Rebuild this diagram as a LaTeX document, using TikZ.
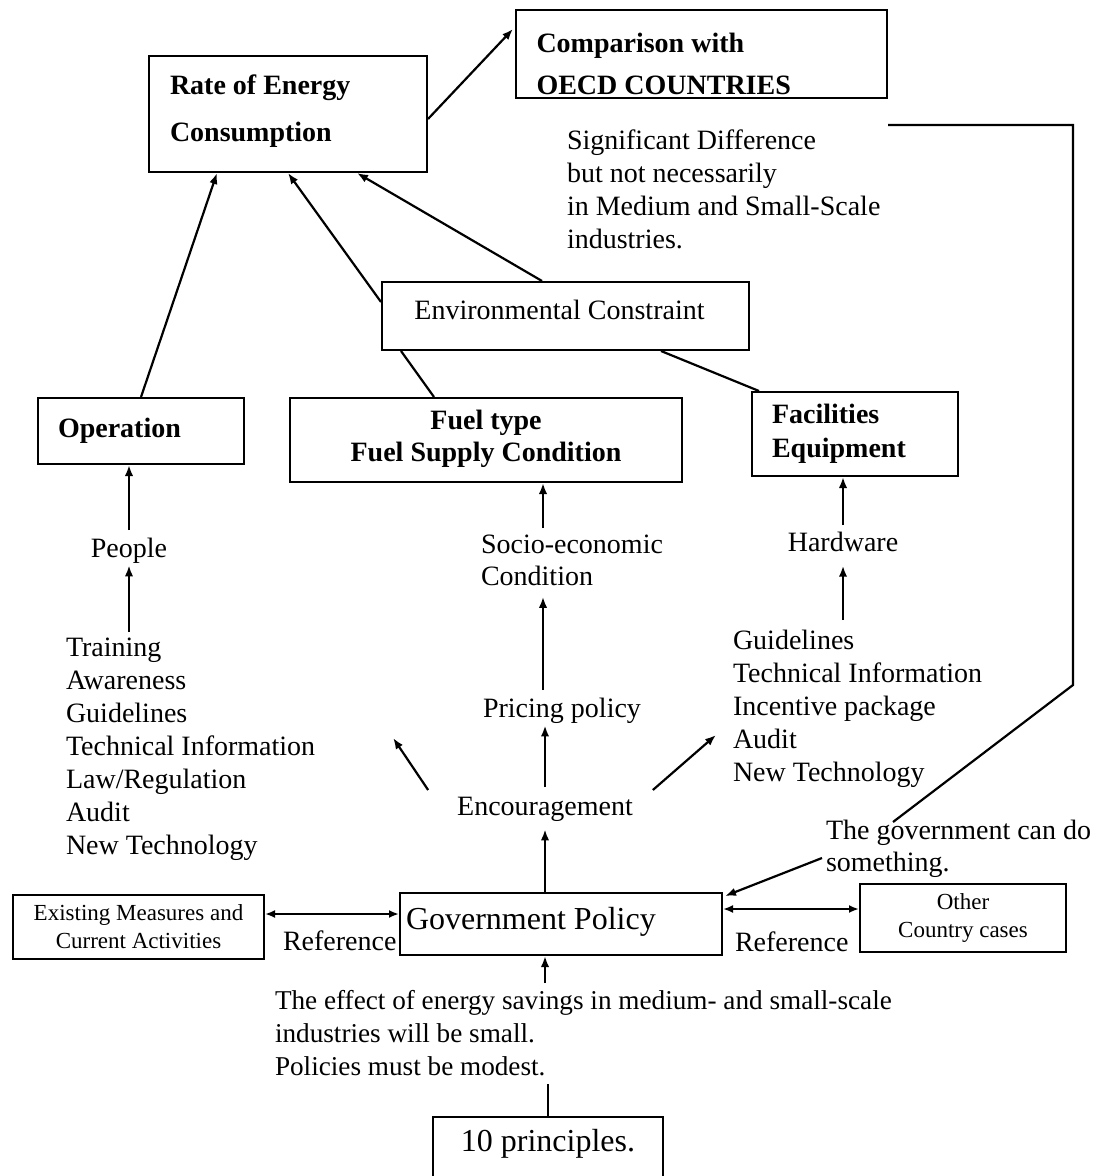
\documentclass[tikz,border=0pt]{standalone}
\usepackage{fontspec}
\setmainfont{Liberation Serif}
\usetikzlibrary{arrows.meta,calc}
\begin{document}
\begin{tikzpicture}[x=0.5pt,y=-0.5pt,
  box/.style={draw,line width=1pt,inner sep=0pt},
  txt/.style={inner sep=0pt,outer sep=0pt,align=flush left,font=\fontsize{14}{16.5}\selectfont},
  arr/.style={line width=1.1pt,-{Latex[length=5.5pt,width=4.2pt]}},
  darr/.style={line width=1pt,{Latex[length=5pt,width=4pt]}-{Latex[length=5pt,width=4pt]}},
  link/.style={line width=1.1pt}]
\useasboundingbox[fill=white] (0,0) rectangle (1096,1176);

% ---------- boxes ----------
\node[box,minimum width=139pt,minimum height=58pt,text width=118pt,align=flush left,
      font=\bfseries\fontsize{14}{23.5}\selectfont] (rate) at (288,114)
      {Rate of Energy\\Consumption\rule[-5.5pt]{0pt}{5.5pt}};
\node[box,minimum width=185.5pt,minimum height=44pt,text width=165pt,align=flush left,
      font=\bfseries\fontsize{14}{21}\selectfont] (comp) at (701.5,54)
      {\rule{0pt}{19.6pt}Comparison with\\OECD COUNTRIES};
\node[box,minimum width=183.5pt,minimum height=34pt,
      font=\fontsize{14}{16.5}\selectfont] (env) at (565.5,316)
      {Environmental Constraint\hspace*{6pt}\rule[-6pt]{0pt}{6pt}};
\node[box,minimum width=103pt,minimum height=33pt,text width=83pt,align=flush left,
      font=\bfseries\fontsize{14}{16.5}\selectfont] (op) at (141,431) {Operation};
\node[box,minimum width=196pt,minimum height=42pt,align=center,
      font=\bfseries\fontsize{14}{16}\selectfont] (fuel) at (486,440)
      {Fuel type\\Fuel Supply Condition\rule[-4.5pt]{0pt}{4.5pt}};
\node[box,minimum width=103pt,minimum height=42pt,text width=83pt,align=flush left,
      font=\bfseries\fontsize{14}{17}\selectfont] (fac) at (855,434)
      {Facilities\\Equipment};
\node[box,minimum width=125.5pt,minimum height=32pt,align=center,
      font=\fontsize{11.5}{14}\selectfont] (exist) at (138.5,927)
      {Existing Measures and\\Current Activities};
\node[box,minimum width=161pt,minimum height=31pt,text width=155pt,align=flush left,
      font=\fontsize{16}{19}\selectfont] (gov) at (561,924)
      {Government Policy\rule[-6pt]{0pt}{6pt}};
\node[box,minimum width=103pt,minimum height=34pt,align=center,
      font=\fontsize{11.5}{14}\selectfont] (other) at (963,918)
      {Other\\Country cases};
\node[box,minimum width=115pt,minimum height=31.5pt,
      font=\fontsize{16}{19}\selectfont] (ten) at (548,1148.5)
      {10 principles.\rule[-8.6pt]{0pt}{8.6pt}};

% ---------- free texts ----------
\node[txt,anchor=north west,font=\fontsize{14}{16.4}\selectfont] (sig) at (567,130)
  {Significant Difference\\but not necessarily\\in Medium and Small-Scale\\industries.};
\node[txt,anchor=north] (people) at (129,538) {People};
\node[txt,anchor=north west] (train) at (66,638)
  {Training\\Awareness\\Guidelines\\Technical Information\\Law/Regulation\\Audit\\New Technology};
\node[txt,anchor=north west,font=\fontsize{14}{16}\selectfont] (socio) at (481,535)
  {Socio-economic\\Condition};
\node[txt,anchor=north] (hardware) at (843,532) {Hardware};
\node[txt,anchor=north west] (rlist) at (733,630)
  {Guidelines\\Technical Information\\Incentive package\\Audit\\New Technology};
\node[txt,anchor=north] (pricing) at (562,698) {Pricing policy};
\node[txt,anchor=north] (encour) at (545,797) {Encouragement};
\node[txt,anchor=north west,font=\fontsize{14}{16}\selectfont] (govcan) at (826,820)
  {The government can do\\something.};
\node[txt,anchor=north west] (ref1) at (283,931) {Reference};
\node[txt,anchor=north west] (ref2) at (735,932) {Reference};
\node[txt,anchor=north west,font=\fontsize{13.6}{16.5}\selectfont] (effect) at (275,990)
  {The effect of energy savings in medium- and small-scale\\industries will be small.\\Policies must be modest.};

% ---------- helper points ----------
\coordinate (gtop) at ($(gov.north west)+(146,0)$);
\coordinate (fx) at ($(fuel.south west)+(254,0)$);

% ---------- connectors into the top of the chart ----------
\draw[arr] ($(rate.north east)+(0,64)$) -- ($(comp.north west)+(-2,20)$);
\draw[arr] ($(op.north west)+(104,0)$) -- ($(rate.south west)+(69,0)$);
\draw[arr] ($(env.north west)+(0,21)$) -- ($(rate.south west)+(140,0)$);
\draw[arr] ($(env.north west)+(161,0)$) -- ($(rate.south west)+(209,0)$);
\draw[link] ($(env.south west)+(20,0)$) -- ($(fuel.north west)+(145,0)$);
\draw[link] ($(env.south west)+(280,0)$) -- ($(fac.north west)+(8,0)$);

% ---------- vertical chains ----------
\draw[arr,shorten <=4pt] (people.north) -- (people.north |- op.south);
\draw[arr,shorten <=3pt,shorten >=1pt] (people.south |- train.north) -- (people.south);
\draw[arr,shorten <=3.5pt] (fx |- socio.north) -- (fx);
\draw[arr,shorten <=4pt,shorten >=5.5pt] (fx |- pricing.north) -- (fx |- socio.south);
\draw[arr,shorten <=5pt,shorten >=1pt] (gtop |- encour.north) -- (gtop |- pricing.south);
\draw[arr,shorten >=4pt] (gtop) -- (gtop |- encour.south);
\draw[arr,shorten <=3.5pt] (hardware.north) -- (hardware.north |- fac.south);
\draw[arr,shorten <=5pt,shorten >=7pt] (hardware.south |- rlist.north) -- (hardware.south);

% ---------- branches from Encouragement ----------
\draw[arr] ($(encour.north west)+(-29,-7)$) -- ($(encour.north west)+(-64,-59)$);
\draw[arr] ($(encour.north east)+(20,-7)$) -- ($(rlist.north west)+(-17,105)$);

% ---------- references around the policy box ----------
\draw[darr] ($(exist.north east)+(0,20)$) -- ($(gov.north west)+(0,22)$);
\draw[darr] ($(gov.north east)+(0,17)$) -- ($(other.north west)+(0,26)$);
\draw[arr] ($(govcan.north west)+(-4,38)$) -- ($(gov.north east)+(2,4)$);
\draw[link] ($(sig.north west)+(321,-5)$) -- ++(185,0) -- ++(0,560)
  -- ($(govcan.north west)+(67,2)$);

% ---------- bottom ----------
\draw[arr,shorten <=3.5pt] (gtop |- effect.north) -- (gtop |- gov.south);
\draw[link,shorten >=4pt] (ten.north) -- (ten.north |- effect.south);
\end{tikzpicture}
\end{document}
